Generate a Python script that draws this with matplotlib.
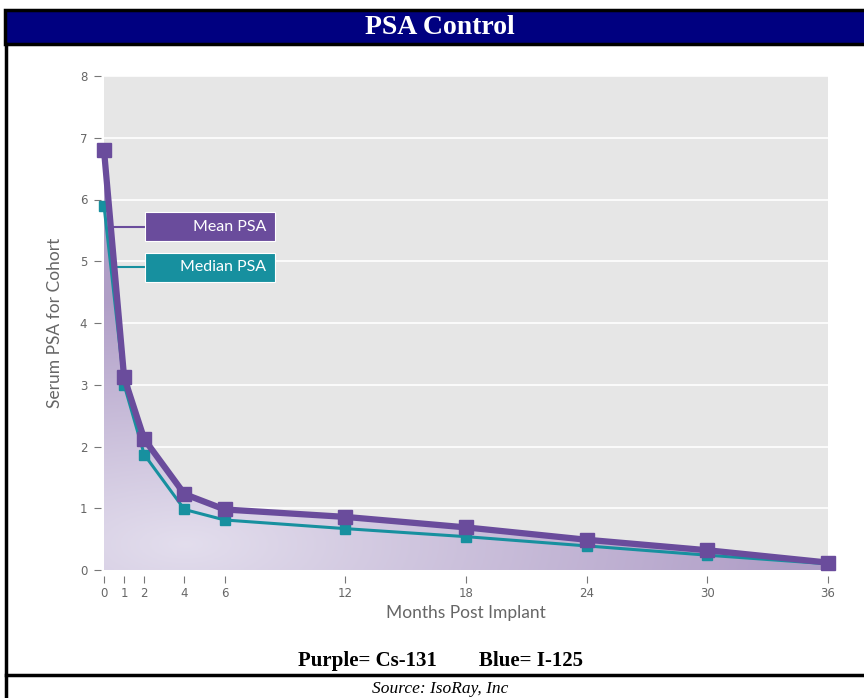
import numpy as np
import matplotlib
matplotlib.use('Agg')
import matplotlib.pyplot as plt
from matplotlib.patches import Rectangle, Polygon

# data
months = [0, 1, 2, 4, 6, 12, 18, 24, 30, 36]
mean_psa = [6.8, 3.12, 2.12, 1.23, 0.98, 0.86, 0.69, 0.49, 0.32, 0.12]
median_psa = [5.9, 3.0, 1.87, 0.98, 0.81, 0.67, 0.54, 0.39, 0.24, 0.10]
yticks = [0, 1, 2, 3, 4, 5, 6, 7, 8]

W, H = 864, 698
purple = '#6a4c9c'
teal = '#17909f'
gray_txt = '#666666'

fig = plt.figure(figsize=(W / 100, H / 100), dpi=100)


def fx(px):
    return px / W


def fy(py):
    return 1 - py / H


# frame, title bar and footer
fig.patches.append(Rectangle((fx(5), fy(44)), 1, 34 / H, transform=fig.transFigure,
                             facecolor='#000080', edgecolor='black', linewidth=2.5))
fig.lines.append(plt.Line2D([fx(6), fx(6)], [fy(44), 0], transform=fig.transFigure,
                            color='black', linewidth=2.5))
fig.lines.append(plt.Line2D([fx(6), 1], [fy(675), fy(675)], transform=fig.transFigure,
                            color='black', linewidth=2.5))
fig.text(fx(440), fy(28), 'PSA Control', color='white', ha='center', va='center',
         family='Liberation Serif', weight='bold', fontsize=20)
fig.text(fx(440), fy(661), 'Purple= Cs-131        Blue= I-125', color='black',
         ha='center', va='center', family='Liberation Serif', weight='bold', fontsize=15)
fig.text(fx(440), fy(689), 'Source: IsoRay, Inc', color='black', ha='center',
         va='center', family='Liberation Serif', style='italic', fontsize=12.5)

# plot area
ax = fig.add_axes([fx(104), fy(570), fx(828) - fx(104), fy(76) - fy(570)])
ax.set_xlim(0, 36)
ax.set_ylim(0, 8)
ax.set_facecolor('#e6e6e6')
for s in ax.spines.values():
    s.set_visible(False)
ax.spines['left'].set_position(('outward', 2))
ax.spines['bottom'].set_position(('outward', 4))
ax.set_yticks(yticks)
ax.set_xticks(months)
ax.tick_params(axis='both', colors='#777777', labelcolor=gray_txt, labelsize=8.5,
               length=5, width=0.8)
ax.tick_params(axis='y', pad=5)
ax.yaxis.grid(True, color='white', linewidth=1.2)
ax.set_axisbelow(True)

# gradient fill under the mean curve
gx, gy = np.meshgrid(np.linspace(0, 36, 300), np.linspace(0, 8, 200))
d = np.sqrt(((gx - 4) / 30) ** 2 + ((gy - 0.4) / 4.0) ** 2)
t = np.clip(d, 0, 1)
light = np.array([0.89, 0.87, 0.93])
dark = np.array([0.69, 0.62, 0.78])
img = light[None, None, :] * (1 - t[..., None]) + dark[None, None, :] * t[..., None]
im = ax.imshow(img, extent=[0, 36, 0, 8], origin='lower', aspect='auto', zorder=1)
poly = Polygon(np.column_stack([[0] + months + [36], [0] + mean_psa + [0]]),
               closed=True, transform=ax.transData, facecolor='none', edgecolor='none')
ax.add_patch(poly)
im.set_clip_path(poly)

ax.plot(months, median_psa, color=teal, linewidth=2.2, marker='s', markersize=7,
        zorder=3, clip_on=False)
ax.plot(months, mean_psa, color=purple, linewidth=4.5, marker='s', markersize=10,
        zorder=4, clip_on=False)

# labels next to the curves
ax.plot([0.45, 2.05], [5.56, 5.56], color=purple, linewidth=1.5, zorder=2)
ax.plot([0.5, 2.05], [4.9, 4.9], color=teal, linewidth=1.5, zorder=2)
ax.add_patch(Rectangle((2.05, 5.33), 6.45, 0.46, facecolor=purple, edgecolor='white',
                       linewidth=0.8, zorder=5))
ax.add_patch(Rectangle((2.05, 4.67), 6.45, 0.46, facecolor=teal, edgecolor='white',
                       linewidth=0.8, zorder=5))
ax.text(8.05, 5.56, 'Mean PSA', color='white', ha='right', va='center',
        family='Lato', fontsize=11.5, zorder=6)
ax.text(8.05, 4.9, 'Median PSA', color='white', ha='right', va='center',
        family='Lato', fontsize=11.5, zorder=6)

ax.set_xlabel('Months Post Implant', color=gray_txt, family='Lato', fontsize=12.5,
              labelpad=3)
ax.set_ylabel('Serum PSA for Cohort', color=gray_txt, family='Lato', fontsize=12.5,
              labelpad=12)

fig.savefig('out.png', dpi=100)
